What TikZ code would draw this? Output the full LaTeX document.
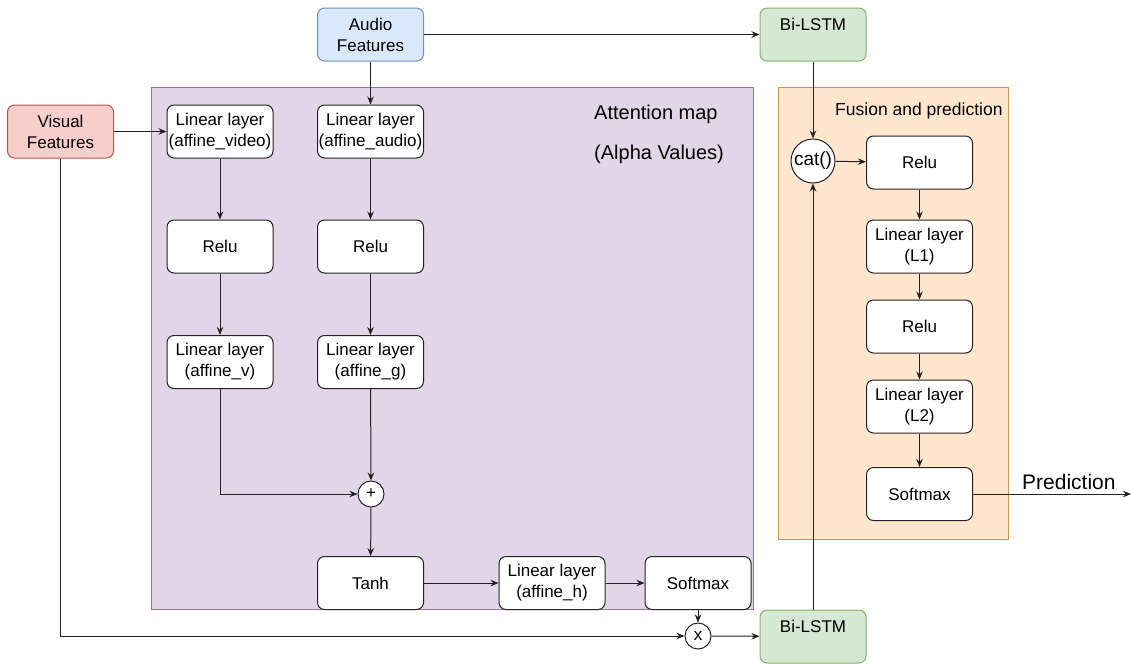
\documentclass[tikz,border=0pt]{standalone}
\usepackage{fontspec}
\setmainfont{Liberation Sans}
\usetikzlibrary{arrows.meta}
\definecolor{purplefill}{HTML}{E1D5E7}
\definecolor{purpledraw}{HTML}{9673A6}
\definecolor{orangefill}{HTML}{FFE6CC}
\definecolor{orangedraw}{HTML}{D79B00}
\definecolor{bluefill}{HTML}{DAE8FC}
\definecolor{bluedraw}{HTML}{6C8EBF}
\definecolor{redfill}{HTML}{F8CECC}
\definecolor{reddraw}{HTML}{B85450}
\definecolor{greenfill}{HTML}{D5E8D4}
\definecolor{greendraw}{HTML}{82B366}
\definecolor{edgecol}{HTML}{222222}
\begin{document}
\begin{tikzpicture}[x=1pt,y=-1pt,
  box/.style={draw=edgecol, fill=white, rounded corners=7pt, line width=1pt,
    minimum width=106pt, minimum height=53pt, align=center, inner sep=0pt,
    font=\fontsize{17}{21}\selectfont},
  bluebox/.style={box, fill=bluefill, draw=bluedraw},
  redbox/.style={box, fill=redfill, draw=reddraw},
  greenbox/.style={box, fill=greenfill, draw=greendraw},
  opcircle/.style={circle, draw=edgecol, fill=white, line width=1pt, inner sep=0pt},
  container/.style={line width=1pt, inner sep=0pt},
  arr/.style={-{Stealth[length=8pt,width=6.5pt]}, line width=1pt, draw=edgecol},
  title/.style={inner sep=0pt, anchor=base west},
]
\useasboundingbox (0,0) rectangle (1131,664);

% containers
\node[container, draw=purpledraw, fill=purplefill, minimum width=602pt, minimum height=522pt] (attn) at (452,348) {};
\node[container, draw=orangedraw, fill=orangefill, minimum width=230pt, minimum height=452pt] (fusion) at (893,313) {};

\node[title, font=\fontsize{20}{24}\selectfont] (attnt1) at (594,119) {Attention map};
\node[title, font=\fontsize{20}{24}\selectfont] (attnt2) at (594,159) {(Alpha Values)};
\node[title, font=\fontsize{17.5}{21}\selectfont] (fust) at (835,115) {Fusion and prediction};

% inputs
\node[bluebox] (audio) at (370.5,34.5) {Audio\\Features};
\node[redbox] (visual) at (60.5,131.5) {Visual\\Features};
\node[greenbox] (bl1) at (813,34.5) {};
\node[inner sep=0pt, font=\fontsize{17}{21}\selectfont] (bl1t) at (813,24) {Bi-LSTM};
\node[greenbox] (bl2) at (813,636.5) {};
\node[inner sep=0pt, font=\fontsize{17}{21}\selectfont] (bl2t) at (813,626) {Bi-LSTM};

% attention
\node[box] (lvv) at (220,131.5) {Linear layer\\(affine\_video)};
\node[box] (lva) at (370.5,131.5) {Linear layer\\(affine\_audio)};
\node[box] (reluv) at (220,246.5) {Relu};
\node[box] (relua) at (370.5,246.5) {Relu};
\node[box] (lv) at (220,362) {Linear layer\\(affine\_v)};
\node[box] (lg) at (370.5,362) {Linear layer\\(affine\_g)};
\node[opcircle, minimum size=26pt, font=\fontsize{17}{20}\selectfont] (plus) at (371,494) {+};
\node[box] (tanh) at (370.5,583) {Tanh};
\node[box] (lh) at (552,583) {Linear layer\\(affine\_h)};
\node[box] (soft1) at (698,583) {Softmax};
\node[opcircle, minimum size=26pt, font=\fontsize{17}{20}\selectfont] (mult) at (698,636) {x};

% fusion
\node[opcircle, minimum size=44pt, font=\fontsize{19}{22}\selectfont] (cat) at (813,161) {cat()};
\node[box] (frelu1) at (919.5,162.5) {Relu};
\node[box] (fl1) at (919.5,246.5) {Linear layer\\(L1)};
\node[box] (frelu2) at (919.5,326.5) {Relu};
\node[box] (fl2) at (919.5,406.5) {Linear layer\\(L2)};
\node[box] (fsoft) at (919.5,494) {Softmax};
\coordinate (predend) at (1131,494);
\node[title, font=\fontsize{21}{24}\selectfont] (predt) at (1022,489) {Prediction};

% connectors
\draw[arr] (audio) -- (bl1);
\draw[arr] (audio) -- (lva);
\draw[arr] (visual) -- (lvv);
\draw[arr] (visual.south) |- (mult);
\draw[arr] (lvv) -- (reluv);
\draw[arr] (reluv) -- (lv);
\draw[arr] (lva) -- (relua);
\draw[arr] (relua) -- (lg);
\draw[arr] (lv.south) |- (plus);
\draw[arr] (lg) -- (plus);
\draw[arr] (plus) -- (tanh);
\draw[arr] (tanh) -- (lh);
\draw[arr] (lh) -- (soft1);
\draw[arr] (soft1) -- (mult);
\draw[arr] (mult) -- (bl2);
\draw[arr] (bl1) -- (cat);
\draw[arr] (bl2) -- (cat);
\draw[arr] (cat) -- (frelu1);
\draw[arr] (frelu1) -- (fl1);
\draw[arr] (fl1) -- (frelu2);
\draw[arr] (frelu2) -- (fl2);
\draw[arr] (fl2) -- (fsoft);
\draw[arr] (fsoft) -- (predend);
\end{tikzpicture}
\end{document}
